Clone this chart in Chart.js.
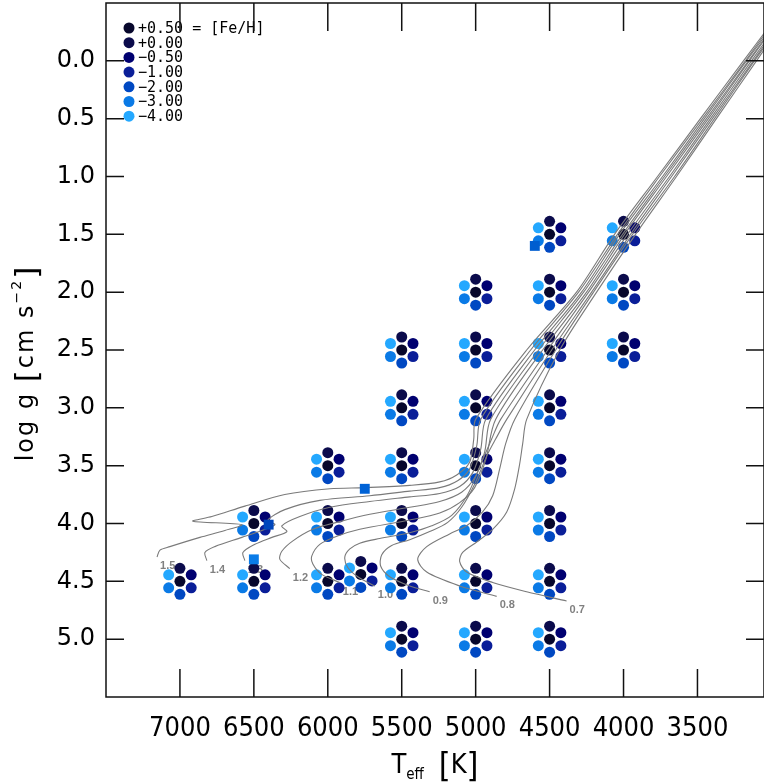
<!DOCTYPE html>
<html>
<head>
<meta charset="utf-8">
<title>Model grid and evolutionary tracks</title>
<script src="https://cdn.jsdelivr.net/npm/chart.js"></script>
<style>
  body { margin: 0; background: #fff; }
  #wrap { width: 764px; height: 783px; }
</style>
</head>
<body>
<div id="wrap"><canvas id="kiel"></canvas></div>
<script>
// [Fe/H] of the model grid, one dot per value around each node
const fehValues = [0.5, 0.0, -0.5, -1.0, -2.0, -3.0, -4.0];
const fehColors = ['#07072c', '#0b0b4c', '#000070', '#0a1e98', '#0048c2', '#0a7ae6', '#24a8ff'];

// grid nodes: Teff columns and the log g values computed at each
const nodeTeff = [7000, 6500, 6000, 5777, 5500, 5000, 4500, 4000];
const nodeLogg = [
    [4.5],
    [4.0, 4.5],
    [3.5, 4.0, 4.5],
    [4.44],
    [2.5, 3.0, 3.5, 4.0, 4.5, 5.0],
    [2.0, 2.5, 3.0, 3.5, 4.0, 4.5, 5.0],
    [1.5, 2.0, 2.5, 3.0, 3.5, 4.0, 4.5, 5.0],
    [1.5, 2.0, 2.5]
];

// benchmark stars (squares)
const starTeff = [5750, 6400, 6500, 4600];
const starLogg = [3.70, 4.01, 4.31, 1.60];
const starColors = ['#0062d6', '#0046bc', '#0a7ce8', '#005ed0'];

// evolutionary tracks [Teff, log g], starting at the ZAMS
const trackMass = ['1.5', '1.4', '1.3', '1.2', '1.1', '1.0', '0.9', '0.8', '0.7'];
const track15 = [[7155,4.29],[7135,4.23],[7068,4.20],[6865,4.12],[6696,4.06],[6581,4.01],[6912,3.98],[6784,3.94],[6561,3.85],[6291,3.75],[5986,3.70],[5750,3.69],[5446,3.67],[5243,3.64],[5128,3.58],[5041,3.47],[5013,3.27],[5000,3.10],[4655,2.50],[4318,2.00],[4061,1.50],[3770,1.00],[3480,0.50],[3189,0.00],[3013,-0.30]];
const track14 = [[6818,4.32],[6831,4.25],[6764,4.20],[6581,4.12],[6446,4.06],[6358,4.01],[6405,3.97],[6291,3.88],[6054,3.80],[5716,3.76],[5446,3.72],[5243,3.69],[5122,3.63],[5041,3.53],[4993,3.33],[4966,3.10],[4628,2.50],[4304,2.00],[4041,1.50],[3757,1.00],[3466,0.50],[3176,0.00],[3006,-0.30]];
const track13 = [[6561,4.32],[6574,4.25],[6493,4.18],[6378,4.12],[6277,4.07],[6311,4.02],[6189,3.94],[5986,3.86],[5716,3.81],[5446,3.77],[5243,3.74],[5108,3.68],[5020,3.56],[4966,3.36],[4932,3.10],[4601,2.50],[4284,2.00],[4027,1.50],[3736,1.00],[3453,0.50],[3169,0.00],[2993,-0.30]];
const track12 = [[6257,4.39],[6324,4.31],[6311,4.24],[6236,4.15],[6101,4.05],[5939,3.99],[5716,3.92],[5446,3.86],[5243,3.81],[5095,3.73],[5000,3.59],[4939,3.38],[4899,3.10],[4574,2.50],[4270,2.00],[4007,1.50],[3723,1.00],[3439,0.50],[3155,0.00],[2986,-0.30]];
const track11 = [[5919,4.51],[6041,4.44],[6101,4.35],[6108,4.28],[6054,4.18],[5939,4.11],[5784,4.05],[5446,3.97],[5243,3.91],[5108,3.82],[5007,3.69],[4932,3.45],[4865,3.10],[4547,2.50],[4250,2.00],[3993,1.50],[3709,1.00],[3426,0.50],[3149,0.00],[2979,-0.30]];
const track10 = [[5682,4.54],[5797,4.46],[5865,4.38],[5885,4.29],[5851,4.22],[5784,4.17],[5649,4.13],[5446,4.08],[5297,4.02],[5162,3.93],[5054,3.75],[4973,3.51],[4892,3.27],[4831,3.10],[4513,2.50],[4236,2.00],[3973,1.50],[3689,1.00],[3412,0.50],[3135,0.00],[2966,-0.30]];
const track09 = [[5311,4.59],[5446,4.54],[5581,4.46],[5642,4.37],[5635,4.27],[5568,4.19],[5446,4.14],[5311,4.07],[5189,3.99],[5095,3.86],[5007,3.66],[4919,3.40],[4865,3.27],[4790,3.10],[4486,2.50],[4216,2.00],[3953,1.50],[3675,1.00],[3399,0.50],[3122,0.00],[2959,-0.30]];
const track08 = [[4858,4.63],[5108,4.54],[5331,4.42],[5392,4.31],[5331,4.20],[5176,4.09],[5061,4.02],[4953,3.90],[4885,3.76],[4838,3.53],[4797,3.31],[4736,3.10],[4459,2.50],[4203,2.00],[3939,1.50],[3655,1.00],[3385,0.50],[3115,0.00],[2945,-0.30]];
const track07 = [[4385,4.67],[4655,4.59],[4885,4.51],[5061,4.42],[5108,4.33],[5088,4.25],[4993,4.16],[4885,4.05],[4790,3.90],[4736,3.70],[4703,3.49],[4682,3.31],[4655,3.10],[4432,2.50],[4182,2.00],[3919,1.50],[3642,1.00],[3372,0.50],[3101,0.00],[2939,-0.30]];
const tracks = [track15, track14, track13, track12, track11, track10, track09, track08, track07];

const teffTicks = [7000, 6500, 6000, 5500, 5000, 4500, 4000, 3500];
const loggTicks = [0.0, 0.5, 1.0, 1.5, 2.0, 2.5, 3.0, 3.5, 4.0, 4.5, 5.0];

// hexagon around each node: centre dot, then clockwise from the top
const hexAngle = [null, 90, 30, -30, -90, -150, 150];
const spread = { teff: 88, logg: 0.1124 };

const dotSets = fehValues.map((feh, i) => {
    const a = hexAngle[i];
    const dT = a === null ? 0 : -Math.cos(a * Math.PI / 180) * spread.teff;
    const dG = a === null ? 0 : -Math.sin(a * Math.PI / 180) * spread.logg;
    const pts = [];
    nodeTeff.forEach((t, k) => nodeLogg[k].forEach(g => pts.push({ x: t + dT, y: g + dG })));
    return {
        label: feh.toFixed(2), data: pts,
        backgroundColor: fehColors[i], borderWidth: 0,
        pointRadius: 5.5, pointHoverRadius: 5.5, order: 3
    };
});

const trackSets = tracks.map((pts, i) => ({
    mass: trackMass[i],
    data: pts.map(([t, g]) => ({ x: t, y: g })),
    showLine: true, pointRadius: 0, borderColor: '#7a7a7a', borderWidth: 1.1,
    tension: 0.3, order: 2
}));

const starSet = {
    data: starTeff.map((t, i) => ({ x: t, y: starLogg[i] })),
    pointStyle: 'rect', pointRadius: 7, pointHoverRadius: 7,
    backgroundColor: starColors, borderWidth: 0, order: 1
};

// mass labels sit under the dots, next to each ZAMS point
const massLabels = {
    id: 'massLabels',
    beforeDatasetsDraw(chart) {
        const ctx = chart.ctx;
        ctx.save();
        ctx.font = 'bold 11px "Liberation Sans"';
        ctx.fillStyle = '#808080';
        ctx.textBaseline = 'middle';
        chart.data.datasets.forEach((ds, i) => {
            if (!ds.mass) return;
            const p = chart.getDatasetMeta(i).data[0];
            ctx.fillText(ds.mass, p.x + 3, p.y + 9);
        });
        ctx.restore();
    }
};

const fehKey = {
    id: 'fehKey',
    afterDatasetsDraw(chart) {
        const { ctx, chartArea: a } = chart;
        ctx.save();
        ctx.font = '15px "DejaVu Sans Mono"';
        ctx.textBaseline = 'middle';
        fehValues.forEach((v, i) => {
            const cy = a.top + 25 + i * 14.7;
            ctx.fillStyle = fehColors[i];
            ctx.beginPath();
            ctx.arc(a.left + 23, cy, 5.5, 0, 2 * Math.PI);
            ctx.fill();
            let txt = (v >= 0 ? '+' : '\u2212') + Math.abs(v).toFixed(2);
            if (i === 0) txt += ' = [Fe/H]';
            ctx.fillStyle = '#000';
            ctx.fillText(txt, a.left + 32, cy + 1);
        });
        ctx.restore();
    }
};

function drawPieces(ctx, pieces, cx, cy) {
    let w = 0;
    pieces.forEach(p => { ctx.font = p[1]; w += ctx.measureText(p[0]).width; });
    let x = cx - w / 2;
    pieces.forEach(p => {
        ctx.font = p[1];
        ctx.fillText(p[0], x, cy + (p[2] || 0));
        x += ctx.measureText(p[0]).width;
    });
}

// box with inward ticks on all four sides, plus axis titles
const frame = {
    id: 'frame',
    afterDraw(chart) {
        const { ctx, chartArea: a, scales: { x, y } } = chart;
        ctx.save();
        ctx.strokeStyle = '#111';
        ctx.lineWidth = 1.5;
        ctx.strokeRect(a.left, a.top, a.right - a.left, a.bottom - a.top);
        ctx.beginPath();
        teffTicks.forEach(v => {
            const px = x.getPixelForValue(v);
            ctx.moveTo(px, a.bottom); ctx.lineTo(px, a.bottom - 28);
            ctx.moveTo(px, a.top); ctx.lineTo(px, a.top + 28);
        });
        loggTicks.forEach(v => {
            const py = y.getPixelForValue(v);
            ctx.moveTo(a.left, py); ctx.lineTo(a.left + 18, py);
            ctx.moveTo(a.right, py); ctx.lineTo(a.right - 18, py);
        });
        ctx.stroke();

        ctx.fillStyle = '#000';
        ctx.textBaseline = 'alphabetic';
        const narrow = "'Liberation Sans Narrow', 'DejaVu Sans Condensed', Roboto";
        drawPieces(ctx, [
            ['T', `27px ${narrow}`],
            ['eff', `15px ${narrow}`, 6],
            ['  ', `26px ${narrow}`],
            ['[', `34px ${narrow}`, 4],
            ['K', `27px ${narrow}`],
            [']', `34px ${narrow}`, 4]
        ], (a.left + a.right) / 2, 773);

        ctx.translate(33, 363);
        ctx.rotate(-Math.PI / 2);
        ctx.letterSpacing = '2px';
        drawPieces(ctx, [
            ['log g ', '24px "DejaVu Sans"'],
            ['[', '31px "DejaVu Sans"', 4],
            ['cm s', '24px "DejaVu Sans"'],
            ['\u22122', '14px "DejaVu Sans"', -12],
            [']', '31px "DejaVu Sans"', 4]
        ], 0, 0);
        ctx.restore();
    }
};

// keep the plot box where the axes put it, without label overhang padding
function noOverhang(s) {
    s.paddingTop = 0; s.paddingBottom = 0; s.paddingLeft = 0; s.paddingRight = 0;
}

new Chart(document.getElementById('kiel'), {
    type: 'scatter',
    data: { datasets: [starSet, ...trackSets, ...dotSets] },
    options: {
        responsive: true,
        maintainAspectRatio: false,
        animation: false,
        layout: { autoPadding: false, padding: { top: 3, right: 0, bottom: 0, left: 0 } },
        plugins: { legend: { display: false }, tooltip: { enabled: false } },
        scales: {
            x: {
                type: 'linear', reverse: true, min: 3050, max: 7500,
                grid: { display: false, drawTicks: false },
                border: { display: false },
                afterBuildTicks: s => { s.ticks = teffTicks.map(v => ({ value: v })); },
                afterFit: s => { s.height = 86; noOverhang(s); },
                ticks: {
                    callback: v => String(v), color: '#000', padding: 16,
                    maxRotation: 0, autoSkip: false,
                    font: { family: "'Liberation Sans Narrow', 'DejaVu Sans Condensed', Roboto", size: 27 }
                }
            },
            y: {
                type: 'linear', reverse: true, min: -0.5, max: 5.5,
                grid: { display: false, drawTicks: false },
                border: { display: false },
                afterBuildTicks: s => { s.ticks = loggTicks.map(v => ({ value: v })); },
                afterFit: s => { s.width = 106; noOverhang(s); },
                ticks: {
                    callback: v => v.toFixed(1), color: '#000', padding: 11,
                    font: { family: 'DejaVu Sans', size: 24 }
                }
            }
        }
    },
    plugins: [massLabels, fehKey, frame]
});
</script>
</body>
</html>
